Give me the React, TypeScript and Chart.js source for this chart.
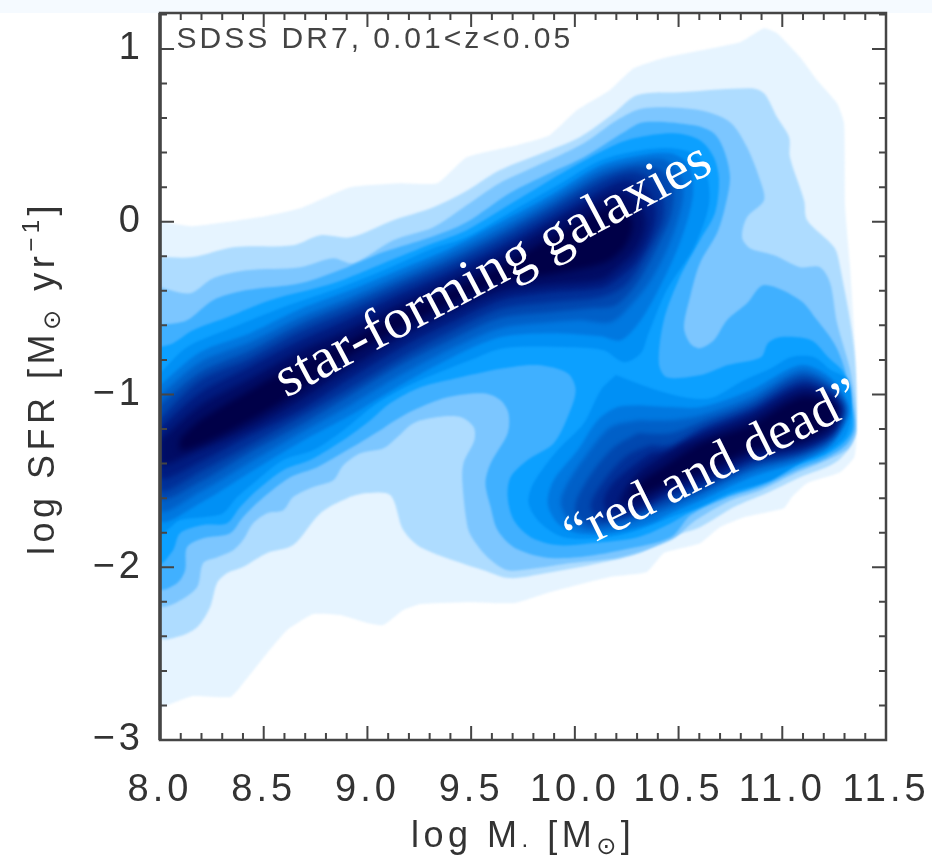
import React, { useEffect, useRef } from "react";
import { Chart, registerables } from "chart.js";

Chart.register(...registerables);

type Pt = [number, number];

// Filled density contours of the SFR - stellar mass plane (log M, log SFR), outermost first.
const contour1: Pt[] = [[8,.003],[8.155,-.026],[8.507,.032],[8.676,.078],[8.918,.2],[9.159,.223],[9.338,.223],[9.478,.373],[9.719,.443],[9.878,.501],[10.009,.645],[10.168,.761],[10.284,.888],[10.443,.952],[10.796,1.039],[10.912,1.12],[10.975,1.091],[11.086,.952],[11.168,.819],[11.264,.686],[11.298,.57],[11.303,.084],[11.327,-.263],[11.351,-.744],[11.361,-1.207],[11.347,-1.363],[11.279,-1.45],[11.12,-1.513],[11.047,-1.594],[11.008,-1.658],[10.815,-1.71],[10.699,-1.768],[10.603,-1.861],[10.429,-1.918],[10.347,-2.028],[10.168,-2.057],[9.864,-2.15],[9.705,-2.208],[9.483,-2.202],[9.256,-2.213],[9.173,-2.248],[9.077,-2.335],[9,-2.323],[8.869,-2.277],[8.739,-2.271],[8.613,-2.364],[8.517,-2.497],[8.386,-2.694],[8.338,-2.752],[8.159,-2.746],[8.014,-2.81],[8,-2.82],[8,.003]];
const contour2: Pt[] = [[8,-.205],[8.159,-.205],[8.353,-.148],[8.642,-.136],[8.773,-.078],[8.918,-.09],[9.125,.009],[9.318,.084],[9.483,.182],[9.637,.298],[9.878,.414],[10.023,.489],[10.188,.628],[10.299,.732],[10.506,.749],[10.844,.773],[10.912,.744],[10.975,.605],[11.033,.489],[11.037,.373],[11.105,.124],[11.12,.009],[11.25,-.148],[11.279,-.263],[11.347,-.744],[11.356,-1.207],[11.327,-1.305],[11.25,-1.398],[11.086,-1.479],[10.926,-1.571],[10.767,-1.652],[10.603,-1.768],[10.443,-1.832],[10.313,-1.918],[10.12,-1.976],[9.864,-2.034],[9.685,-2.063],[9.56,-2.017],[9.483,-1.988],[9.256,-1.884],[9.173,-1.785],[9.111,-1.583],[9,-1.571],[8.903,-1.6],[8.773,-1.687],[8.642,-1.872],[8.517,-1.918],[8.4,-1.999],[8.324,-2.034],[8.275,-2.092],[8.241,-2.231],[8.179,-2.347],[8.082,-2.404],[8,-2.404],[8,-.205]];
const contour3: Pt[] = [[8,-.379],[8.145,-.414],[8.256,-.327],[8.42,-.281],[8.676,-.263],[8.835,-.211],[8.932,-.24],[9.125,-.107],[9.318,-.032],[9.478,.095],[9.637,.223],[9.801,.315],[10.043,.454],[10.202,.587],[10.332,.657],[10.603,.645],[10.748,.576],[10.83,.431],[10.893,.24],[10.912,.124],[10.83,.026],[10.806,-.09],[10.844,-.153],[10.96,-.194],[11.086,-.263],[11.182,-.263],[11.231,-.356],[11.264,-.587],[11.332,-.888],[11.356,-1.207],[11.322,-1.305],[11.235,-1.369],[11.066,-1.455],[10.897,-1.554],[10.753,-1.612],[10.584,-1.727],[10.463,-1.843],[10.221,-1.942],[9.98,-1.976],[9.82,-2.005],[9.676,-2.017],[9.579,-1.942],[9.512,-1.843],[9.483,-1.768],[9.458,-1.513],[9.463,-1.398],[9.516,-1.264],[9.512,-1.189],[9.449,-1.131],[9.338,-1.131],[9.222,-1.166],[9.144,-1.247],[9.077,-1.311],[8.966,-1.34],[8.884,-1.409],[8.835,-1.496],[8.739,-1.536],[8.642,-1.594],[8.594,-1.67],[8.517,-1.687],[8.449,-1.745],[8.4,-1.843],[8.353,-1.901],[8.275,-1.942],[8.208,-1.976],[8.179,-2.115],[8.082,-2.202],[8,-2.219],[8,-.379]];
const contour4: Pt[] = [[8,-.599],[8.13,-.57],[8.256,-.454],[8.42,-.396],[8.676,-.356],[8.903,-.263],[9.077,-.176],[9.304,-.09],[9.478,-.003],[9.685,.165],[9.878,.281],[10.043,.373],[10.236,.518],[10.332,.576],[10.574,.558],[10.67,.512],[10.719,.414],[10.748,.258],[10.724,.084],[10.685,-.067],[10.603,-.24],[10.555,-.437],[10.526,-.611],[10.555,-.703],[10.603,-.732],[10.67,-.686],[10.733,-.57],[10.83,-.472],[10.912,-.367],[11.086,-.454],[11.168,-.57],[11.25,-.703],[11.298,-.842],[11.342,-1.091],[11.347,-1.207],[11.308,-1.293],[11.211,-1.369],[11.066,-1.438],[10.897,-1.536],[10.728,-1.6],[10.559,-1.698],[10.463,-1.826],[10.221,-1.901],[10.014,-1.942],[9.85,-1.942],[9.705,-1.884],[9.627,-1.785],[9.594,-1.652],[9.569,-1.513],[9.594,-1.398],[9.676,-1.224],[9.68,-1.108],[9.642,-1.033],[9.56,-.993],[9.386,-1.016],[9.222,-1.091],[9.111,-1.166],[9.062,-1.207],[8.903,-1.322],[8.758,-1.421],[8.628,-1.479],[8.483,-1.612],[8.4,-1.71],[8.338,-1.803],[8.208,-1.832],[8.13,-1.884],[8.121,-2.017],[8.082,-2.092],[8,-2.121],[8,-.599]];
const contour5: Pt[] = [[8,-.726],[8.063,-.703],[8.159,-.628],[8.324,-.553],[8.531,-.454],[8.835,-.356],[9.077,-.24],[9.318,-.124],[9.478,-.049],[9.719,.124],[9.961,.298],[10.168,.431],[10.284,.483],[10.477,.512],[10.603,.472],[10.67,.373],[10.695,.24],[10.675,.049],[10.603,-.107],[10.506,-.321],[10.429,-.57],[10.405,-.819],[10.443,-.9],[10.608,-.888],[10.738,-.83],[10.897,-.784],[10.931,-.703],[10.994,-.668],[11.139,-.686],[11.221,-.784],[11.298,-.877],[11.337,-1.091],[11.337,-1.207],[11.293,-1.282],[11.197,-1.357],[11.066,-1.415],[10.897,-1.519],[10.728,-1.589],[10.559,-1.681],[10.463,-1.745],[10.303,-1.826],[10.076,-1.861],[9.917,-1.872],[9.787,-1.826],[9.705,-1.727],[9.676,-1.594],[9.69,-1.479],[9.772,-1.38],[9.898,-1.282],[9.965,-1.131],[10.004,-.975],[9.965,-.877],[9.82,-.83],[9.656,-.848],[9.449,-.9],[9.256,-.958],[9.111,-1.05],[9.014,-1.149],[8.884,-1.264],[8.724,-1.38],[8.594,-1.438],[8.468,-1.554],[8.386,-1.652],[8.324,-1.745],[8.208,-1.756],[8.097,-1.803],[8.063,-1.901],[8,-1.976],[8,-.726]];

const star6: Pt[] = [[8,-.877],[8.13,-.726],[8.353,-.611],[8.594,-.495],[8.835,-.396],[9.077,-.281],[9.318,-.153],[9.478,-.09],[9.705,.067],[9.932,.223],[10.125,.356],[10.318,.414],[10.463,.425],[10.584,.385],[10.637,.269],[10.646,.095],[10.574,-.148],[10.443,-.396],[10.352,-.657],[10.318,-.761],[10.236,-.813],[10.139,-.744],[9.98,-.726],[9.656,-.732],[9.497,-.801],[9.222,-.935],[9.048,-1.05],[8.884,-1.207],[8.739,-1.322],[8.594,-1.38],[8.468,-1.496],[8.372,-1.594],[8.304,-1.687],[8.208,-1.71],[8.097,-1.727],[8,-1.803],[8,-.877]];
const star7: Pt[] = [[8,-.946],[8.193,-.755],[8.435,-.645],[8.676,-.506],[8.918,-.396],[9.159,-.275],[9.4,-.153],[9.642,-.003],[9.883,.153],[10.125,.327],[10.318,.385],[10.463,.396],[10.55,.327],[10.569,.153],[10.511,-.107],[10.414,-.367],[10.318,-.57],[10.221,-.686],[10.125,-.663],[9.883,-.645],[9.642,-.668],[9.4,-.79],[9.159,-.946],[8.918,-1.12],[8.676,-1.276],[8.435,-1.45],[8.193,-1.629],[8,-1.727],[8,-.946]];
const star8: Pt[] = [[8,-1.004],[8.193,-.813],[8.435,-.697],[8.676,-.553],[8.918,-.437],[9.159,-.31],[9.4,-.182],[9.642,-.038],[9.883,.124],[10.125,.298],[10.318,.356],[10.439,.356],[10.511,.269],[10.52,.124],[10.463,-.107],[10.366,-.339],[10.27,-.483],[10.173,-.582],[10.028,-.57],[9.883,-.582],[9.642,-.616],[9.4,-.738],[9.159,-.888],[8.918,-1.062],[8.676,-1.224],[8.435,-1.392],[8.193,-1.565],[8,-1.67],[8,-1.004]];
const star9: Pt[] = [[8,-1.062],[8.193,-.871],[8.435,-.744],[8.676,-.593],[8.918,-.472],[9.159,-.344],[9.4,-.217],[9.642,-.072],[9.883,.09],[10.125,.263],[10.294,.321],[10.414,.298],[10.473,.194],[10.463,.038],[10.39,-.165],[10.294,-.367],[10.197,-.483],[10.076,-.501],[9.883,-.524],[9.642,-.558],[9.4,-.686],[9.159,-.83],[8.918,-1.004],[8.676,-1.178],[8.435,-1.334],[8.193,-1.507],[8,-1.6],[8,-1.062]];
const star10: Pt[] = [[8,-1.137],[8.193,-.917],[8.435,-.79],[8.676,-.634],[8.918,-.512],[9.159,-.379],[9.4,-.252],[9.642,-.107],[9.883,.055],[10.125,.229],[10.27,.286],[10.366,.252],[10.424,.153],[10.424,.009],[10.342,-.194],[10.245,-.367],[10.125,-.437],[9.883,-.466],[9.642,-.506],[9.4,-.639],[9.159,-.79],[8.918,-.964],[8.676,-1.131],[8.435,-1.293],[8.193,-1.45],[8,-1.554],[8,-1.137]];
const star11: Pt[] = [[8,-1.195],[8.193,-.987],[8.435,-.836],[8.676,-.686],[8.918,-.558],[9.159,-.42],[9.4,-.292],[9.642,-.148],[9.883,.014],[10.125,.182],[10.245,.24],[10.342,.194],[10.39,.067],[10.366,-.078],[10.294,-.234],[10.197,-.339],[10.125,-.385],[9.883,-.408],[9.642,-.454],[9.4,-.587],[9.159,-.732],[8.918,-.906],[8.676,-1.091],[8.435,-1.235],[8.193,-1.392],[8,-1.484],[8,-1.195]];
const star12: Pt[] = [[8,-1.264],[8.193,-1.062],[8.435,-.906],[8.676,-.744],[8.918,-.616],[9.159,-.472],[9.4,-.339],[9.642,-.194],[9.883,-.026],[10.125,.136],[10.231,.171],[10.318,.095],[10.342,-.02],[10.294,-.165],[10.197,-.281],[10.125,-.339],[9.883,-.367],[9.642,-.408],[9.4,-.53],[9.159,-.674],[8.918,-.848],[8.676,-1.033],[8.435,-1.195],[8.193,-1.322],[8,-1.409],[8,-1.264]];
const star13: Pt[] = [[8.097,-1.253],[8.193,-1.149],[8.435,-.975],[8.676,-.813],[8.918,-.686],[9.159,-.524],[9.4,-.396],[9.642,-.258],[9.883,-.095],[10.125,.067],[10.221,.084],[10.279,-.003],[10.245,-.136],[10.149,-.234],[9.883,-.304],[9.642,-.35],[9.4,-.472],[9.159,-.616],[8.918,-.772],[8.676,-.975],[8.435,-1.149],[8.193,-1.293],[8.097,-1.322],[8.097,-1.253]];

const quiescent6: Pt[] = [[10.197,-.888],[10.366,-.964],[10.526,-1.016],[10.656,-1.021],[10.815,-.917],[10.946,-.848],[11.042,-.784],[11.153,-.784],[11.235,-.859],[11.318,-.917],[11.332,-1.091],[11.308,-1.236],[11.211,-1.334],[11.09,-1.392],[10.946,-1.496],[10.753,-1.565],[10.608,-1.647],[10.463,-1.71],[10.27,-1.797],[10.11,-1.832],[9.946,-1.826],[9.835,-1.745],[9.777,-1.629],[9.801,-1.513],[9.917,-1.322],[10.043,-1.166],[10.125,-.975],[10.197,-.888]];
const quiescent7: Pt[] = [[10.303,-1.062],[10.463,-1.073],[10.608,-1.073],[10.849,-.975],[11.091,-.83],[11.235,-.906],[11.322,-1.091],[11.235,-1.293],[11.091,-1.386],[10.849,-1.479],[10.608,-1.612],[10.463,-1.687],[10.366,-1.745],[10.173,-1.803],[10.014,-1.803],[9.917,-1.745],[9.869,-1.629],[9.898,-1.496],[10.014,-1.322],[10.11,-1.149],[10.207,-1.073],[10.303,-1.062]];
const quiescent8: Pt[] = [[10.303,-1.149],[10.463,-1.149],[10.608,-1.12],[10.849,-1.016],[11.091,-.859],[11.235,-.935],[11.313,-1.091],[11.235,-1.276],[11.091,-1.369],[10.849,-1.45],[10.608,-1.583],[10.463,-1.658],[10.245,-1.756],[10.076,-1.785],[9.98,-1.739],[9.932,-1.629],[9.965,-1.513],[10.062,-1.34],[10.173,-1.189],[10.303,-1.149]];
const quiescent9: Pt[] = [[10.303,-1.224],[10.463,-1.224],[10.608,-1.16],[10.849,-1.05],[11.091,-.888],[11.235,-.958],[11.303,-1.091],[11.235,-1.259],[11.091,-1.351],[10.849,-1.427],[10.608,-1.56],[10.463,-1.629],[10.221,-1.727],[10.076,-1.756],[10.004,-1.687],[10.014,-1.594],[10.091,-1.438],[10.188,-1.305],[10.303,-1.224]];
const quiescent10: Pt[] = [[10.366,-1.293],[10.463,-1.293],[10.608,-1.195],[10.849,-1.079],[11.091,-.917],[11.235,-.981],[11.294,-1.091],[11.235,-1.241],[11.091,-1.334],[10.849,-1.403],[10.608,-1.536],[10.463,-1.594],[10.27,-1.698],[10.125,-1.727],[10.076,-1.641],[10.149,-1.484],[10.255,-1.351],[10.366,-1.293]];
const quiescent11: Pt[] = [[10.366,-1.34],[10.463,-1.322],[10.608,-1.218],[10.849,-1.102],[11.091,-.946],[11.235,-1.004],[11.284,-1.091],[11.235,-1.224],[11.091,-1.316],[10.849,-1.38],[10.608,-1.513],[10.463,-1.565],[10.294,-1.67],[10.163,-1.687],[10.139,-1.612],[10.188,-1.507],[10.284,-1.409],[10.366,-1.34]];
const quiescent12: Pt[] = [[10.39,-1.38],[10.511,-1.293],[10.608,-1.247],[10.849,-1.131],[11.091,-.975],[11.235,-1.021],[11.274,-1.091],[11.235,-1.207],[11.091,-1.293],[10.849,-1.351],[10.608,-1.484],[10.463,-1.536],[10.318,-1.629],[10.212,-1.641],[10.245,-1.542],[10.308,-1.45],[10.39,-1.38]];
const quiescent13: Pt[] = [[10.439,-1.409],[10.608,-1.282],[10.849,-1.178],[11.091,-1.016],[11.235,-1.05],[11.26,-1.091],[11.226,-1.178],[11.091,-1.264],[10.849,-1.322],[10.608,-1.45],[10.463,-1.507],[10.318,-1.583],[10.27,-1.583],[10.318,-1.507],[10.439,-1.409]];

const levelColors = ["#e6f4ff","#aedcff","#7cc6ff","#40b0ff","#0ca0ff","#0090f5","#0078e0","#0060c8","#0048b0","#003098","#001c80","#000c64","#000048"];
const levelBlur = [0.8,0.8,0.8,0.8,0.8,1,1.5,2,2,2.5,2.5,3,3];
const levelShapes: Pt[][][] = [[contour1],[contour2],[contour3],[contour4],[contour5],[star6,quiescent6],[star7,quiescent7],[star8,quiescent8],[star9,quiescent9],[star10,quiescent10],[star11,quiescent11],[star12,quiescent12],[star13,quiescent13]];

const xRange: Pt = [8, 11.5];
const yRange: Pt = [-3, 1.208];
const xStep = 0.1;
const yStep = 0.2;
const surveyLabel = "SDSS DR7, 0.01<z<0.05";
const starLabel = "star-forming galaxies";
const redLabel = "\u201Cred and dead\u201D";
const axisColor = "#454545";
const SANS = "'Liberation Sans','DejaVu Sans',sans-serif";

type Run = { t: string; size: number; dy: number };
const yTitleRuns: Run[] = [
  { t: "log SFR [M", size: 36, dy: 0 },
  { t: "\u2299", size: 24, dy: 6 },
  { t: " yr", size: 36, dy: 0 },
  { t: "\u22121", size: 24, dy: -15 },
  { t: "]", size: 36, dy: 0 },
];
const xTitleRuns: Run[] = [
  { t: "log M", size: 36, dy: 0 },
  { t: ".", size: 24, dy: 0 },
  { t: " [M", size: 36, dy: 0 },
  { t: "\u2299", size: 24, dy: 7 },
  { t: "]", size: 36, dy: 0 },
];

function isMultiple(v: number, step: number) {
  const r = v / step;
  return Math.abs(r - Math.round(r)) < 1e-6;
}

function drawRuns(ctx: CanvasRenderingContext2D, runs: Run[], spacing: string) {
  let pos = 0;
  (ctx as any).letterSpacing = spacing;
  ctx.textAlign = "left";
  ctx.textBaseline = "alphabetic";
  for (const r of runs) {
    ctx.font = `${r.size}px ${SANS}`;
    ctx.fillText(r.t, pos, r.dy);
    pos += ctx.measureText(r.t).width;
  }
}

const paperPlugin = {
  id: "paper",
  beforeDraw(chart: any) {
    const ctx = chart.ctx;
    ctx.save();
    ctx.fillStyle = "#f5faff";
    ctx.fillRect(0, 0, chart.width, 13);
    ctx.restore();
    (ctx as any).letterSpacing = "4px";
    ctx.filter = "blur(0.6px)";
  },
  beforeDatasetsDraw(chart: any) {
    chart.ctx.filter = `blur(${levelBlur[0]}px)`;
  },
  afterDatasetDraw(chart: any, args: any) {
    const next = chart.data.datasets[args.index + 1];
    if (next) chart.ctx.filter = `blur(${levelBlur[next.level]}px)`;
  },
  afterDatasetsDraw(chart: any) {
    chart.ctx.filter = "blur(0.6px)";
  },
  afterDraw(chart: any) {
    const { ctx, chartArea: a, scales } = chart;
    ctx.save();
    ctx.strokeStyle = axisColor;
    ctx.lineCap = "butt";
    ctx.lineWidth = 2;
    ctx.beginPath();
    for (const tick of scales.x.ticks) {
      const px = scales.x.getPixelForValue(tick.value);
      const len = isMultiple(tick.value, 0.5) ? 14 : 7;
      ctx.moveTo(px, a.bottom);
      ctx.lineTo(px, a.bottom - len);
      ctx.moveTo(px, a.top);
      ctx.lineTo(px, a.top + len);
    }
    for (const tick of scales.y.ticks) {
      const py = scales.y.getPixelForValue(tick.value);
      const len = isMultiple(tick.value, 1) ? 14 : 7;
      ctx.moveTo(a.left, py);
      ctx.lineTo(a.left + len, py);
      ctx.moveTo(a.right, py);
      ctx.lineTo(a.right - len, py);
    }
    ctx.stroke();
    ctx.lineWidth = 2.5;
    ctx.strokeRect(a.left, a.top, a.right - a.left, a.bottom - a.top);
    ctx.lineWidth = 3.5;
    ctx.beginPath();
    ctx.moveTo(a.left, a.top);
    ctx.lineTo(a.left, a.bottom);
    ctx.stroke();

    ctx.fillStyle = "#333333";
    ctx.save();
    ctx.translate(54, 555);
    ctx.rotate(-Math.PI / 2);
    drawRuns(ctx, yTitleRuns, "4.5px");
    ctx.restore();
    ctx.save();
    ctx.translate(411, 847);
    drawRuns(ctx, xTitleRuns, "4.5px");
    ctx.restore();

    ctx.fillStyle = "#444444";
    (ctx as any).letterSpacing = "3px";
    ctx.font = `30px ${SANS}`;
    ctx.textAlign = "left";
    ctx.textBaseline = "alphabetic";
    ctx.fillText(surveyLabel, scales.x.getPixelForValue(8.08), scales.y.getPixelForValue(1.007));

    ctx.filter = "none";
    (ctx as any).letterSpacing = "0px";
    ctx.fillStyle = "#ffffff";
    ctx.font = `57px 'Liberation Serif',serif`;
    ctx.save();
    ctx.translate(scales.x.getPixelForValue(8.609), scales.y.getPixelForValue(-1.02));
    ctx.rotate((-27.9 * Math.PI) / 180);
    ctx.fillText(starLabel, 0, 0);
    ctx.restore();
    ctx.save();
    ctx.font = `54px 'Liberation Serif',serif`;
    ctx.translate(scales.x.getPixelForValue(10.0), scales.y.getPixelForValue(-1.915));
    ctx.rotate((-26.5 * Math.PI) / 180);
    ctx.fillText(redLabel, 0, 0);
    ctx.restore();
    ctx.restore();
    ctx.filter = "none";
  },
};

const noOverhang = (s: any) => {
  s.paddingLeft = 0;
  s.paddingRight = 0;
  s.paddingTop = 0;
  s.paddingBottom = 0;
};

export default function App() {
  const ref = useRef<HTMLCanvasElement>(null);
  useEffect(() => {
    document.body.style.margin = "0";
    const datasets: any[] = [];
    levelShapes.forEach((shapes, level) => {
      shapes.forEach((shape) => {
        datasets.push({
          label: `level ${level + 1}`,
          level,
          data: shape.map(([x, y]) => ({ x, y })),
          showLine: true,
          fill: "shape",
          backgroundColor: levelColors[level],
          borderColor: levelColors[level],
          borderWidth: 0,
          pointRadius: 0,
          tension: level === 0 ? 0.15 : 0.3,
          order: 1000 - datasets.length,
        });
      });
    });
    const chart = new Chart(ref.current as HTMLCanvasElement, {
      type: "scatter",
      data: { datasets },
      options: {
        responsive: false,
        animation: false,
        layout: { padding: { left: 0, top: 13, right: 46, bottom: 0 } },
        plugins: { legend: { display: false }, tooltip: { enabled: false } },
        scales: {
          x: {
            type: "linear",
            min: xRange[0],
            max: xRange[1],
            grid: { display: false, drawTicks: false },
            border: { display: false },
            afterFit: (s: any) => { s.height = 119; noOverhang(s); },
            ticks: {
              stepSize: xStep,
              autoSkip: false,
              maxRotation: 0,
              minRotation: 0,
              padding: 28,
              color: "#333333",
              font: { family: SANS, size: 38 },
              callback: (v: any) => (isMultiple(Number(v), 0.5) ? Number(v).toFixed(1) : ""),
            },
          },
          y: {
            type: "linear",
            min: yRange[0],
            max: yRange[1],
            grid: { display: false, drawTicks: false },
            border: { display: false },
            afterFit: (s: any) => { s.width = 160; noOverhang(s); },
            ticks: {
              stepSize: yStep,
              autoSkip: false,
              includeBounds: false,
              padding: 16,
              color: "#333333",
              font: { family: SANS, size: 38 },
              callback: (v: any) => {
                const n = Number(v);
                if (!isMultiple(n, 1)) return "";
                const r = Math.round(n);
                return r < 0 ? `\u2212${-r}` : `${r}`;
              },
            },
          },
        },
      } as any,
      plugins: [paperPlugin as any],
    });
    return () => chart.destroy();
  }, []);
  return <canvas ref={ref} width={932} height={859} style={{ display: "block" }} />;
}
